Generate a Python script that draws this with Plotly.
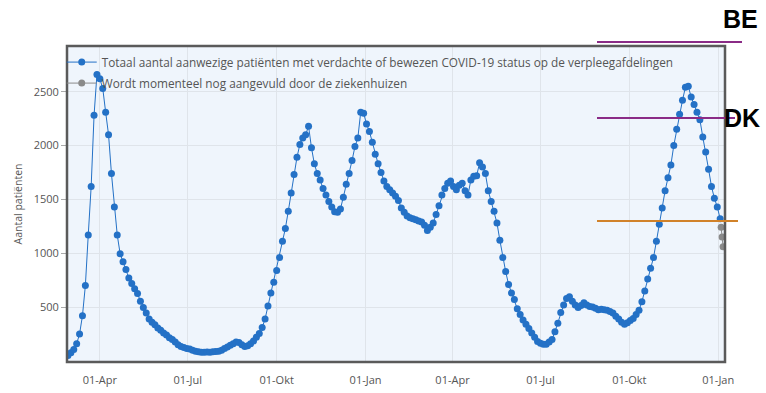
import pandas as pd
import plotly.graph_objects as go

# Readings (every 3 days) of patients on wards
start_date = "2020-02-28"
step_days = 3
totaal = [
    50, 75, 105, 160, 250, 420, 700, 1170, 1620, 2280,
    2660, 2620, 2530, 2310, 2100, 1740, 1430, 1170, 995, 920,
    850, 770, 720, 670, 625, 555, 495, 445, 390, 360,
    335, 305, 285, 260, 240, 215, 200, 175, 150, 135,
    125, 115, 110, 100, 90, 85, 80, 80, 82, 80,
    85, 88, 90, 100, 115, 130, 145, 160, 175, 170,
    150, 135, 140, 160, 185, 220, 255, 310, 390, 510,
    630, 730, 840, 960, 1110, 1230, 1390, 1560, 1730, 1890,
    2010, 2070, 2100, 2180, 1980, 1830, 1740, 1680, 1600, 1540,
    1480, 1430, 1385, 1380, 1410, 1520, 1640, 1740, 1860, 1990,
    2070, 2310, 2300, 2200, 2130, 2030, 1920, 1830, 1750, 1670,
    1620, 1590, 1560, 1530, 1490, 1420, 1380, 1345, 1330, 1320,
    1310, 1300, 1290, 1260, 1210, 1240, 1280, 1360, 1440, 1540,
    1600, 1650, 1670, 1620, 1590, 1630, 1650, 1580, 1540, 1680,
    1715, 1720, 1840, 1800, 1740, 1580, 1480, 1390, 1280, 1120,
    960, 830, 710, 630, 570, 485, 430, 380, 340, 300,
    260, 220, 180, 165, 155, 155, 175, 200, 270, 350,
    450, 520, 580, 595, 555, 520, 495, 515, 540, 520,
    505, 500, 490, 475, 480, 475, 470, 460, 445, 415,
    390, 360, 340, 355, 375, 395, 430, 470, 550, 650,
    760, 860, 960, 1110, 1270, 1420, 1580, 1700, 1820, 2000,
    2150, 2290, 2420, 2540, 2550, 2450, 2380, 2310, 2240, 2080,
    1940, 1780, 1620, 1510, 1430, 1320,
]
aangevuld_dates = ["2022-01-04", "2022-01-05", "2022-01-06"]
aangevuld = [1240, 1150, 1060]

tick_dates = ["2020-04-01", "2020-07-01", "2020-10-01", "2021-01-01",
              "2021-04-01", "2021-07-01", "2021-10-01", "2022-01-01"]
tick_labels = ["01-Apr", "01-Jul", "01-Okt", "01-Jan",
               "01-Apr", "01-Jul", "01-Okt", "01-Jan"]
y_ticks = [500, 1000, 1500, 2000, 2500]

dates = pd.date_range(start_date, periods=len(totaal), freq=f"{step_days}D")

blue = "#2471c6"
fig = go.Figure()
fig.add_trace(go.Scatter(
    x=dates, y=totaal, mode="lines+markers",
    name="Totaal aantal aanwezige patiënten met verdachte of bewezen COVID-19 status op de verpleegafdelingen",
    line=dict(color=blue, width=1),
    marker=dict(color=blue, size=7),
    legendgroup="a",
))
fig.add_trace(go.Scatter(
    x=pd.to_datetime(aangevuld_dates), y=aangevuld, mode="lines+markers",
    name="Wordt momenteel nog aangevuld door de ziekenhuizen",
    line=dict(color="#8a8a8a", width=1),
    marker=dict(color="#8a8a8a", size=7),
    legendgroup="b",
))

W, H = 766, 393
PL, PR, PT, PB = 67, 725, 46, 362  # plot area in page pixels
L, R, T, B = PL, W - PR, PT, H - PB
pw, ph = PR - PL, PB - PT

def px(x):
    return (x - PL) / pw

def py(y):
    return (PB - y) / ph

purple = "#8a2b86"
orange = "#d1822a"
shapes = [
    dict(type="rect", xref="paper", yref="paper", x0=0, x1=1, y0=0, y1=1,
         line=dict(color="#5a5a5a", width=2.5), layer="above"),
    dict(type="line", xref="paper", yref="paper", x0=px(597), x1=px(742),
         y0=py(42), y1=py(42), line=dict(color=purple, width=2)),
    dict(type="line", xref="paper", yref="paper", x0=px(597), x1=px(735),
         y0=py(118), y1=py(118), line=dict(color=purple, width=2)),
    dict(type="line", xref="paper", yref="paper", x0=px(597), x1=px(738),
         y0=py(221), y1=py(221), line=dict(color=orange, width=2)),
]
annotations = [
    dict(text="<b>BE</b>", xref="paper", yref="paper", x=px(740), y=py(19),
         showarrow=False, font=dict(family="Liberation Sans, Arial", size=25, color="#000"),
         xanchor="center", yanchor="middle"),
    dict(text="<b>DK</b>", xref="paper", yref="paper", x=px(742), y=py(118),
         showarrow=False, font=dict(family="Liberation Sans, Arial", size=25, color="#000"),
         xanchor="center", yanchor="middle"),
]

fig.update_layout(
    width=W, height=H,
    margin=dict(l=L, r=R, t=T, b=B, autoexpand=False),
    paper_bgcolor="white",
    plot_bgcolor="#eff5fc",
    font=dict(family="Open Sans, sans-serif", color="#555", size=11),
    showlegend=True,
    legend=dict(x=-0.008, y=0.995, xanchor="left", yanchor="top",
                bgcolor="rgba(0,0,0,0)", font=dict(size=11.8, color="#555"),
                tracegroupgap=2, itemwidth=30),
    shapes=shapes,
    annotations=annotations,
)
fig.update_xaxes(
    range=["2020-02-27", "2022-01-08"],
    tickvals=pd.to_datetime(tick_dates), ticktext=tick_labels,
    showgrid=True, gridcolor="#dfe4ea", gridwidth=1,
    ticks="outside", ticklen=8, tickcolor="rgba(0,0,0,0)",
    zeroline=False, automargin=False,
    tickfont=dict(size=11, color="#555"),
)
fig.update_yaxes(
    range=[-10, 2924],
    tickvals=y_ticks,
    showgrid=True, gridcolor="#dfe4ea", gridwidth=1,
    ticks="outside", ticklen=5, tickcolor="#aaa",
    zeroline=False, automargin=False,
    title=dict(text="Aantal patiënten", font=dict(size=10.5, color="#555"), standoff=8),
    tickfont=dict(size=11, color="#555"),
)

# remove the browser's default 8px page margin so the figure fills the window
fig.write_html("out.html",
               config={"displayModeBar": False},
               post_script="document.body.style.margin='0px';document.body.style.overflow='hidden';")
